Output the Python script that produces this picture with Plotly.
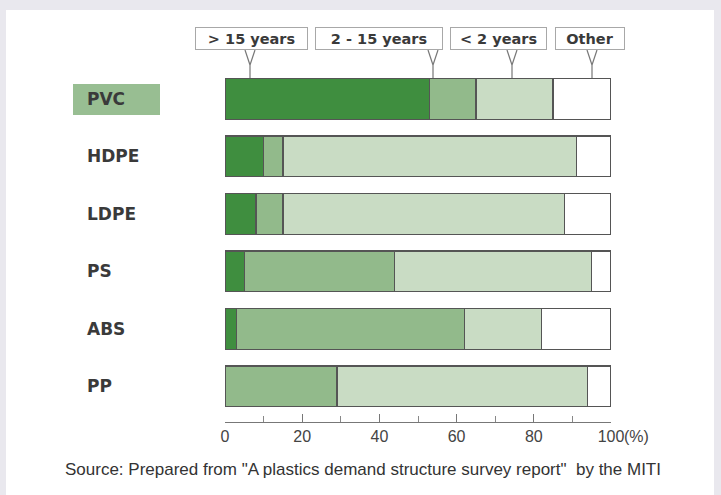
import plotly.graph_objects as go

# ---- data (percent shares) ----
categories = ["PVC", "HDPE", "LDPE", "PS", "ABS", "PP"]
series_names = ["> 15 years", "2 - 15 years", "< 2 years", "Other"]
over_15 = [53, 10, 8, 5, 3, 0]
two_to_15 = [12, 5, 7, 39, 59, 29]
under_2 = [20, 76, 73, 51, 20, 65]
other = [15, 9, 12, 5, 18, 6]
tick_vals = [0, 20, 40, 60, 80, 100]
tick_text = ["0", "20", "40", "60", "80", "100"]
source_text = 'Source: Prepared from "A plastics demand structure survey report"&nbsp;&nbsp;by the MITI'

colors = ["#3f8e3f", "#92ba8b", "#c9dcc4", "#ffffff"]
series = [over_15, two_to_15, under_2, other]

fig = go.Figure()
for name, vals, col in zip(series_names, series, colors):
    fig.add_trace(go.Bar(
        y=categories, x=vals, name=name, orientation="h",
        marker=dict(color=col, line=dict(color="#555555", width=1.3)),
        width=0.71, showlegend=False, hoverinfo="x+name",
    ))

W, H = 721, 495
L, R, T, B = 225, 110, 70, 73
pw = W - L - R
ph = H - T - B

def px(x):
    return (x - L) / pw

def py(y):
    return (H - B - y) / ph

shapes = []
# white panel on grey page
shapes.append(dict(type="rect", xref="paper", yref="paper",
                   x0=px(6), x1=px(714), y0=py(10), y1=py(500),
                   fillcolor="white", line=dict(width=0), layer="below"))
# PVC highlight box
shapes.append(dict(type="rect", xref="paper", yref="paper",
                   x0=px(73), x1=px(160), y0=py(115), y1=py(84),
                   fillcolor="#98be92", line=dict(width=0), layer="below"))

annotations = []
for c in categories:
    annotations.append(dict(x=px(85), y=c, xref="paper", yref="y",
                            text="<b>" + c + "</b>", showarrow=False, xanchor="left",
                            font=dict(family="DejaVu Sans", size=17, color="#3a3a3a")))

# callout boxes
callout_boxes = [(195, 308), (315, 443), (450, 547), (555, 625)]
pointer_px = [250, 433, 512, 592]
for name, (x0, x1), pxp in zip(series_names, callout_boxes, pointer_px):
    annotations.append(dict(
        x=px((x0 + x1) / 2), y=py(38.5), xref="paper", yref="paper",
        text="<b>" + name.replace("<", "&lt;").replace(">", "&gt;") + "</b>",
        showarrow=False, xanchor="center", yanchor="middle",
        width=x1 - x0 - 2, height=21, borderwidth=1, borderpad=0,
        bordercolor="#a8a8a8", bgcolor="white",
        font=dict(family="DejaVu Sans", size=14.5, color="#3a3a3a")))
    xc = px(pxp)
    d = 5 / pw
    shapes.append(dict(type="path", xref="paper", yref="paper",
                       path=f"M {xc-d},{py(50)} L {xc},{py(65)} L {xc+d},{py(50)} M {xc},{py(65)} L {xc},{py(78)}",
                       line=dict(color="#777777", width=1.2)))

# "(%)" after the 100 tick label
annotations.append(dict(x=1.0, y=py(436), xref="paper", yref="paper",
                        text="(%)", showarrow=False, xanchor="left", yanchor="middle",
                        xshift=11,
                        font=dict(family="Liberation Sans", size=16, color="#444")))
# source
annotations.append(dict(x=px(363), y=py(469), xref="paper", yref="paper",
                        text=source_text, showarrow=False, xanchor="center", yanchor="middle",
                        font=dict(family="Liberation Sans", size=17, color="#333")))

fig.update_layout(
    barmode="stack",
    width=W, height=H,
    margin=dict(l=L, r=R, t=T, b=B, pad=0),
    paper_bgcolor="#e9e8ee",
    plot_bgcolor="rgba(0,0,0,0)",
    shapes=shapes,
    annotations=annotations,
    xaxis=dict(range=[0, 100], tickvals=tick_vals, ticktext=tick_text,
               showgrid=False, zeroline=False, showline=True,
               linecolor="#777", linewidth=1.3, ticks="inside", ticklen=8,
               tickcolor="#777", tickwidth=1.2,
               minor=dict(tickvals=[10, 30, 50, 70, 90], ticks="inside",
                          ticklen=6, tickcolor="#888"),
               tickfont=dict(family="Liberation Sans", size=16, color="#444"),
               fixedrange=True),
    yaxis=dict(categoryorder="array", categoryarray=categories,
               range=[5.62, -0.5], showticklabels=False, showgrid=False,
               zeroline=False, showline=False, ticks="", fixedrange=True),
    bargap=0.29,
)

fig.write_html("out.html")
